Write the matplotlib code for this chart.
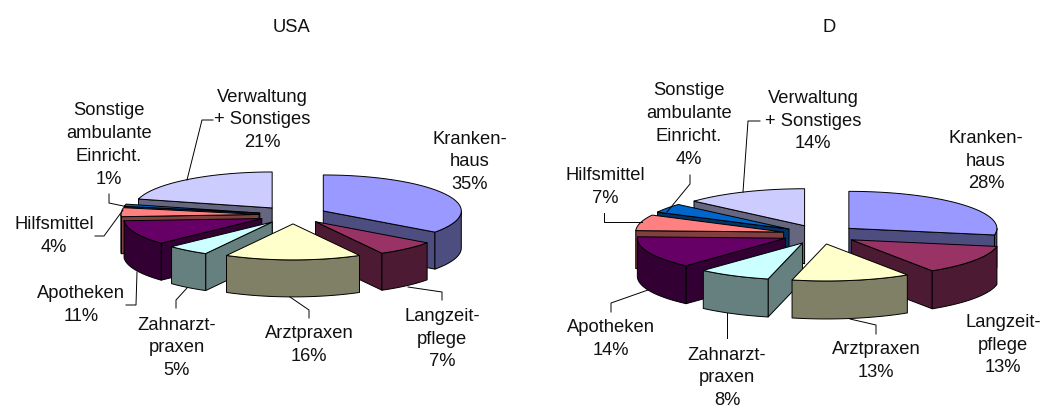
import numpy as np
import matplotlib
matplotlib.use('Agg')
import matplotlib.pyplot as plt
from matplotlib.patches import Polygon

plt.rcParams['font.family'] = ['Liberation Sans', 'DejaVu Sans']

# shares in percent, clockwise from 12 o'clock
categories = ['Kranken-\nhaus', 'Langzeit-\npflege', 'Arztpraxen', 'Zahnarzt-\npraxen',
              'Apotheken', 'Hilfsmittel', 'Sonstige\nambulante\nEinricht.', 'Verwaltung\n+ Sonstiges']
usa_values = [35, 7, 16, 5, 11, 4, 1, 21]
d_values = [28, 13, 13, 8, 14, 7, 4, 13.5]
top_colors = ['#9999FF', '#993366', '#FFFFCC', '#CCFFFF', '#660066', '#FF8080', '#0066CC', '#CCCCFF']

# pie geometry in pixels: centre, radii, height, explosion
usa_geom = dict(cx=293, cy=215, rx=138, ry=36, depth=37, ex=34, ey=8.9)
d_geom = dict(cx=820, cy=234.5, rx=148, ry=37, depth=38, ex=37.6, ey=9.6)

# label centres
usa_label_pos = [(470, 162), (442, 339), (309, 345), (177, 348), (81, 305), (54, 236), (109, 145), (262, 120)]
d_label_pos = [(986, 161), (1003, 345), (876, 361), (727, 378), (611, 339), (605, 187), (689, 125), (813, 121)]

usa_leaders = [[(213, 120), (202, 120), (187, 180)],
               [(109, 194), (109, 203), (128, 207)],
               [(95, 236), (104, 236), (123, 210)],
               [(126, 305), (136, 305), (137, 272)],
               [(176, 308), (176, 300), (187, 288)],
               [(309, 318), (309, 310), (290, 297)],
               [(442, 300), (442, 292), (408, 287)]]
d_leaders = [[(760, 121), (748, 121), (743, 192)],
             [(690, 175), (690, 184), (667, 212)],
             [(604, 213), (604, 222), (642, 222)],
             [(611, 312), (611, 303), (648, 290)],
             [(727, 338), (727, 313)],
             [(876, 334), (876, 325), (850, 319)]]


def arc_points(g, ax0, ay0, a, b):
    t = np.radians(np.linspace(a, b, max(int(abs(b - a)), 2) + 1))
    return np.column_stack([ax0 + g['rx'] * np.sin(t), ay0 - g['ry'] * np.cos(t)])


def draw_face(ax, pts, color):
    ax.add_patch(Polygon(pts, closed=True, facecolor=color, edgecolor='black', linewidth=0.7, joinstyle='round'))


def draw_pie(ax, values, g):
    shares = np.array(values, dtype=float)
    edges = np.concatenate([[0], np.cumsum(shares) / shares.sum() * 360])
    mids = (edges[:-1] + edges[1:]) / 2
    # back slices first
    order = np.argsort(-np.abs(mids - 180))
    for i in order:
        a, b, mid = edges[i], edges[i + 1], np.radians(mids[i])
        x0 = g['cx'] + g['ex'] * np.sin(mid)
        y0 = g['cy'] - g['ey'] * np.cos(mid)
        top = np.array(matplotlib.colors.to_rgb(top_colors[i]))
        side = top * 0.5
        drop = np.array([0, g['depth']])
        apex = np.array([x0, y0])
        # cut faces that look towards the viewer
        if np.sin(np.radians(a)) < 0:
            p = arc_points(g, x0, y0, a, a)[0]
            draw_face(ax, [apex, p, p + drop, apex + drop], side)
        if np.sin(np.radians(b)) > 0:
            p = arc_points(g, x0, y0, b, b)[0]
            draw_face(ax, [apex, p, p + drop, apex + drop], side)
        # rim
        lo, hi = max(a, 90), min(b, 270)
        if hi > lo:
            rim = arc_points(g, x0, y0, lo, hi)
            draw_face(ax, np.vstack([rim, rim[::-1] + drop]), side)
        # top
        draw_face(ax, np.vstack([apex, arc_points(g, x0, y0, a, b)]), top)


fig = plt.figure(figsize=(10.44, 4.09), dpi=100)
ax = fig.add_axes([0, 0, 1, 1])
ax.set_xlim(0, 1044)
ax.set_ylim(409, 0)
ax.axis('off')

for values, geom, label_pos, leaders in [(usa_values, usa_geom, usa_label_pos, usa_leaders),
                                         (d_values, d_geom, d_label_pos, d_leaders)]:
    draw_pie(ax, values, geom)
    for line in leaders:
        xs, ys = zip(*line)
        ax.plot(xs, ys, color='black', lw=0.7)
    for name, v, (x, y) in zip(categories, values, label_pos):
        ax.text(x, y, f'{name}\n{v:.0f}%', ha='center', va='center', fontsize=13.2, color='#111111', linespacing=1.45)

ax.text(292, 27, 'USA', ha='center', va='center', fontsize=13.2, color='#111111')
ax.text(829, 27, 'D', ha='center', va='center', fontsize=13.2, color='#111111')

fig.savefig('out.png', dpi=100)
